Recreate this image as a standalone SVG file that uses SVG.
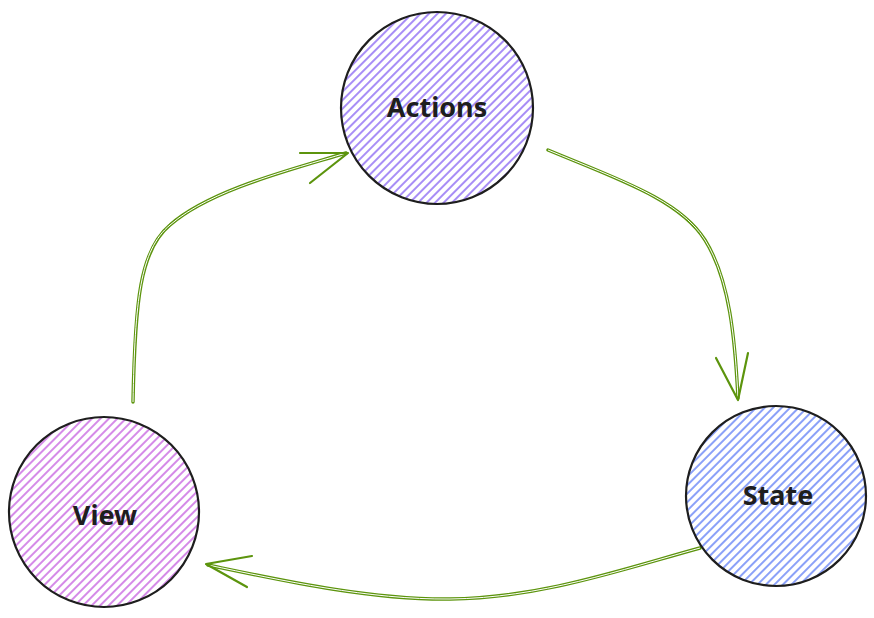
<svg xmlns="http://www.w3.org/2000/svg" width="874" height="618" viewBox="0 0 874 618">
<defs>
<pattern id="hV" width="6" height="6" patternUnits="userSpaceOnUse" patternTransform="rotate(-45)"><line x1="0" y1="1" x2="6" y2="1" stroke="#7950f2" stroke-width="1.3"/></pattern>
<pattern id="hS" width="6" height="6" patternUnits="userSpaceOnUse" patternTransform="rotate(-45)"><line x1="0" y1="1" x2="6" y2="1" stroke="#4c6ef5" stroke-width="1.3"/></pattern>
<pattern id="hG" width="6" height="6" patternUnits="userSpaceOnUse" patternTransform="rotate(-45)"><line x1="0" y1="1" x2="6" y2="1" stroke="#be4bdb" stroke-width="1.3"/></pattern>
</defs>
<style>
.node{stroke:#1e1e1e;stroke-width:2.2;}
.lbl{font-family:"Noto Sans",sans-serif;font-size:27px;font-weight:bold;fill:#1e1e1e;text-anchor:middle;dominant-baseline:central;}
.ao{fill:none;stroke:#5c940d;stroke-width:3.4;stroke-linecap:round;}
.ai{fill:none;stroke:#ffffff;stroke-width:1;}
.ah{fill:none;stroke:#5c940d;stroke-width:2.2;stroke-linecap:round;stroke-linejoin:round;}
</style>
<rect width="874" height="618" fill="#ffffff"/>
<g id="connectors">
<path class="ao" d="M133,402 C135,300 140,250 170,225 C210,190 290,170 346,153"/>
<path class="ai" d="M133,402 C135,300 140,250 170,225 C210,190 290,170 346,153"/>
<path class="ah" d="M300,153 L348,153 L310,183"/>
<path class="ao" d="M548,150 C620,180 680,200 705,240 C730,280 735,340 738,398"/>
<path class="ai" d="M548,150 C620,180 680,200 705,240 C730,280 735,340 738,398"/>
<path class="ah" d="M716,358 L738,400 L748,353"/>
<path class="ao" d="M700,548 C620,570 540,598 450,599 C370,600 280,580 208,565"/>
<path class="ai" d="M700,548 C620,570 540,598 450,599 C370,600 280,580 208,565"/>
<path class="ah" d="M252,556 L206,564 L247,587"/>
</g>
<g id="actions">
<circle class="node" cx="437" cy="108" r="96" fill="url(#hV)"/>
<text class="lbl" x="437" y="106">Actions</text>
</g>
<g id="state">
<circle class="node" cx="776" cy="496" r="90" fill="url(#hS)"/>
<text class="lbl" x="778" y="494">State</text>
</g>
<g id="view">
<circle class="node" cx="104" cy="512" r="95" fill="url(#hG)"/>
<text class="lbl" x="105" y="514">View</text>
</g>
</svg>
